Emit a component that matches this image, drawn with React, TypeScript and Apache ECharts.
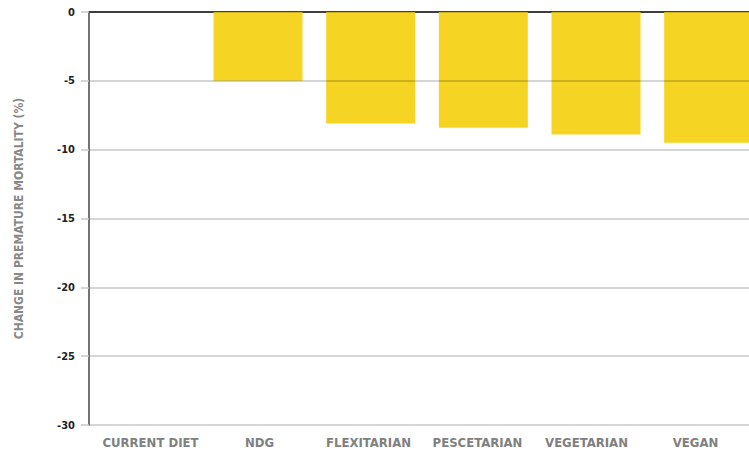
import React, { useEffect, useRef } from "react";
import * as echarts from "echarts";

const categories = ["CURRENT DIET", "NDG", "FLEXITARIAN", "PESCETARIAN", "VEGETARIAN", "VEGAN"];
const values = [0, -5.0, -8.1, -8.4, -8.9, -9.5];
const yTicks = [0, -5, -10, -15, -20, -25, -30];

const FONT = "'DejaVu Sans Condensed', 'Liberation Sans Narrow', sans-serif";

export default function App() {
  const ref = useRef<HTMLDivElement>(null);
  useEffect(() => {
    const chart = echarts.init(ref.current!, undefined, { renderer: "svg" });
    chart.setOption({
      animation: false,
      grid: [
        { left: 89, top: 12, width: 676, bottom: 29, containLabel: false, outerBoundsMode: "none" },
        { left: 96, top: 12, width: 654, bottom: 29, containLabel: false, outerBoundsMode: "none" },
      ],
      xAxis: [
        {
          type: "category",
          gridIndex: 0,
          data: categories,
          position: "bottom",
          axisLine: { show: false },
          axisTick: { show: false },
          axisLabel: { show: false },
        },
        {
          type: "category",
          gridIndex: 0,
          data: categories,
          position: "top",
          axisLine: { show: true, onZero: false, lineStyle: { color: "#111", width: 1.5 } },
          axisTick: { show: false },
          axisLabel: { show: false },
        },
        {
          type: "category",
          gridIndex: 1,
          data: categories,
          position: "bottom",
          axisLine: { show: false },
          axisTick: { show: false },
          axisLabel: {
            interval: 0,
            color: "#808080",
            fontFamily: FONT,
            fontWeight: "bold",
            fontSize: 13,
            margin: 11,
          },
        },
      ],
      yAxis: [
        {
          type: "value",
          gridIndex: 0,
          min: -30,
          max: 0,
          interval: 5,
          z: 5,
          name: "CHANGE IN PREMATURE MORTALITY (%)",
          nameLocation: "middle",
          nameGap: 64,
          nameTextStyle: { color: "#888", fontFamily: FONT, fontWeight: "bold", fontSize: 12 },
          axisLine: { show: true, lineStyle: { color: "#444", width: 1.5 } },
          axisTick: { show: true, length: 8, lineStyle: { color: "#c8c8c8", width: 1.5 } },
          axisLabel: {
            color: "#222",
            fontFamily: FONT,
            fontWeight: "bold",
            fontSize: 11,
            margin: 14,
            formatter: (v: number) => (yTicks.includes(v) ? String(v) : ""),
          },
          splitLine: { show: true, lineStyle: { color: "rgba(0,0,0,0.22)", width: 1.5 } },
        },
        {
          type: "value",
          gridIndex: 1,
          min: -30,
          max: 0,
          show: false,
        },
      ],
      series: [
        {
          type: "bar",
          xAxisIndex: 0,
          yAxisIndex: 0,
          data: values,
          barWidth: "79%",
          itemStyle: { color: "#F5D423" },
          z: 2,
        },
      ],
    });
    return () => chart.dispose();
  }, []);
  return <div ref={ref} style={{ width: 749, height: 454, position: "absolute", left: 0, top: 0 }} />;
}
